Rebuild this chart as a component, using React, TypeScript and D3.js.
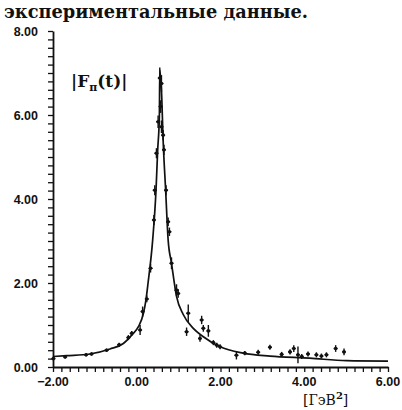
import React, { useEffect, useRef } from 'react';
import * as d3 from 'd3';

const W = 402;
const H = 410;

const xTicks = [-2, 0, 2, 4, 6];
const yTicks = [0, 2, 4, 6, 8];

const curveT = [-2.0, -1.67, -1.12, -0.64, -0.32, -0.12, 0.04, 0.16, 0.22, 0.27, 0.38, 0.46, 0.5, 0.54, 0.55,
  0.59, 0.63, 0.69, 0.75, 0.83, 0.95, 1.11, 1.35, 1.59, 1.99, 2.54, 3.18, 4.13, 5.01, 6.0];
const curveF = [0.25, 0.27, 0.31, 0.43, 0.56, 0.76, 0.96, 1.28, 1.6, 2.0, 3.02, 4.21, 5.17, 5.96, 7.07,
  6.6, 5.4, 4.21, 3.02, 2.47, 1.68, 1.25, 0.92, 0.72, 0.48, 0.33, 0.26, 0.21, 0.15, 0.14];

const pointT = [-1.99, -1.71, -1.21, -1.08, -0.72, -0.42, -0.2, -0.12, 0.08, 0.14, 0.24, 0.33, 0.41, 0.43,
  0.47, 0.51, 0.55, 0.59, 0.57, 0.59, 0.63, 0.65, 0.7, 0.75, 0.78, 0.83, 0.95, 0.99, 1.19, 1.23, 1.51,
  1.55, 1.59, 1.71, 1.83, 1.91, 1.99, 2.38, 2.58, 2.9, 3.18, 3.46, 3.66, 3.75, 3.85, 3.94, 4.09, 4.29,
  4.41, 4.53, 4.75, 4.95];
const pointF = [0.2, 0.24, 0.29, 0.31, 0.4, 0.53, 0.7, 0.8, 0.88, 1.32, 1.62, 2.35, 3.5, 4.21,
  5.09, 5.84, 6.88, 6.75, 6.2, 5.72, 5.52, 5.17, 4.21, 3.46, 3.22, 2.47, 1.83, 1.75, 0.84, 1.28, 0.68,
  1.12, 0.92, 0.86, 0.58, 0.52, 0.48, 0.28, 0.33, 0.35, 0.47, 0.3, 0.36, 0.44, 0.29, 0.25, 0.31, 0.29,
  0.26, 0.29, 0.44, 0.36];
const pointErr = [0.05, 0.04, 0.04, 0.04, 0.04, 0.05, 0.06, 0.06, 0.12, 0.12, 0.08, 0.1, 0.12, 0.12,
  0.12, 0.15, 0.25, 0.2, 0.15, 0.15, 0.12, 0.12, 0.12, 0.1, 0.1, 0.14, 0.14, 0.1, 0.1, 0.21, 0.08,
  0.1, 0.08, 0.14, 0.06, 0.06, 0.06, 0.1, 0.05, 0.06, 0.06, 0.06, 0.06, 0.08, 0.2, 0.06, 0.06, 0.06,
  0.06, 0.06, 0.08, 0.08];

const App = () => {
  const svgRef = useRef<SVGSVGElement>(null);

  useEffect(() => {
    const svg = d3.select(svgRef.current);
    svg.selectAll('*').remove();
    svg.append('rect').attr('width', W).attr('height', H).attr('fill', 'white');

    const x = d3.scaleLinear().domain([-2, 6]).range([53, 388]);
    const y = d3.scaleLinear().domain([0, 8]).range([367, 31]);
    const ink = '#111';

    // heading line from the page above the figure
    svg
      .append('text')
      .attr('x', 4)
      .attr('y', 18)
      .attr('font-family', '"DejaVu Serif", serif')
      .attr('font-weight', 'bold')
      .attr('font-size', 18)
      .attr('textLength', 304)
      .attr('lengthAdjust', 'spacingAndGlyphs')
      .attr('fill', ink)
      .text('экспериментальные данные.');

    // axes
    const minorX = d3.range(-2, 6.001, 0.2);
    const minorY = d3.range(0, 8.001, 0.2);
    const xAxis = svg
      .append('g')
      .attr('transform', `translate(0,${y(0)})`)
      .call(d3.axisBottom(x).tickValues(minorX).tickSize(5).tickFormat(() => '').tickSizeOuter(0));
    const yAxis = svg
      .append('g')
      .attr('transform', `translate(${x(-2)},0)`)
      .call(d3.axisLeft(y).tickValues(minorY).tickSize(5).tickFormat(() => '').tickSizeOuter(0));
    [xAxis, yAxis].forEach((g) => {
      g.select('.domain').attr('stroke', ink).attr('stroke-width', 1.8);
      g.selectAll('.tick line').attr('stroke', ink).attr('stroke-width', 1.3);
    });

    svg
      .append('g')
      .selectAll('text')
      .data(xTicks)
      .enter()
      .append('text')
      .attr('x', (d) => x(d))
      .attr('y', y(0) + 19)
      .attr('text-anchor', 'middle')
      .attr('font-family', '"Liberation Sans", Arial, sans-serif')
      .attr('font-weight', 'bold')
      .attr('font-size', 12.5)
      .attr('fill', ink)
      .text((d) => (d < 0 ? '\u2212' : '') + Math.abs(d).toFixed(2));

    svg
      .append('g')
      .selectAll('text')
      .data(yTicks)
      .enter()
      .append('text')
      .attr('x', 38)
      .attr('y', (d) => y(d) + 4.5)
      .attr('text-anchor', 'end')
      .attr('font-family', '"Liberation Sans", Arial, sans-serif')
      .attr('font-weight', 'bold')
      .attr('font-size', 12.5)
      .attr('fill', ink)
      .text((d) => d.toFixed(2));

    // fitted curve
    const curve = curveT.map((t, i) => [t, curveF[i]] as [number, number]);
    svg
      .append('path')
      .datum(curve)
      .attr('fill', 'none')
      .attr('stroke', ink)
      .attr('stroke-width', 1.7)
      .attr('d', d3.line().x((d) => x(d[0])).y((d) => y(d[1])).curve(d3.curveMonotoneX));

    // experimental points with error bars
    const pts = pointT.map((t, i) => ({ t, f: pointF[i], e: pointErr[i] }));
    const pg = svg.append('g');
    pg.selectAll('line.err')
      .data(pts)
      .enter()
      .append('line')
      .attr('x1', (d) => x(d.t))
      .attr('x2', (d) => x(d.t))
      .attr('y1', (d) => y(d.f - d.e))
      .attr('y2', (d) => y(d.f + d.e))
      .attr('stroke', ink)
      .attr('stroke-width', 1.4);
    pg.selectAll('line.hz')
      .data(pts)
      .enter()
      .append('line')
      .attr('x1', (d) => x(d.t) - 2)
      .attr('x2', (d) => x(d.t) + 2)
      .attr('y1', (d) => y(d.f))
      .attr('y2', (d) => y(d.f))
      .attr('stroke', ink)
      .attr('stroke-width', 1.4);
    pg.selectAll('circle')
      .data(pts)
      .enter()
      .append('circle')
      .attr('cx', (d) => x(d.t))
      .attr('cy', (d) => y(d.f))
      .attr('r', 1.8)
      .attr('fill', ink);

    // |F_pi(t)| label
    const lbl = svg
      .append('text')
      .attr('x', 71)
      .attr('y', 87)
      .attr('font-family', '"DejaVu Serif", serif')
      .attr('font-weight', 'bold')
      .attr('font-size', 17)
      .attr('fill', ink);
    lbl.append('tspan').text('|F');
    lbl.append('tspan').attr('font-size', 11).attr('dy', 4).text('π');
    lbl.append('tspan').attr('dy', -4).text('(t)|');

    // unit label
    const unit = svg
      .append('text')
      .attr('x', 303)
      .attr('y', 405)
      .attr('font-family', '"DejaVu Serif", serif')
      .attr('font-size', 14)
      .attr('fill', ink);
    unit.append('tspan').text('[ГэВ');
    unit.append('tspan').attr('font-size', 10).attr('font-weight', 'bold').attr('dy', -6).text('2');
    unit.append('tspan').attr('dy', 6).text(']');
  }, []);

  return <svg ref={svgRef} width={W} height={H} style={{ position: 'absolute', left: 0, top: 0 }} />;
};

export default App;
